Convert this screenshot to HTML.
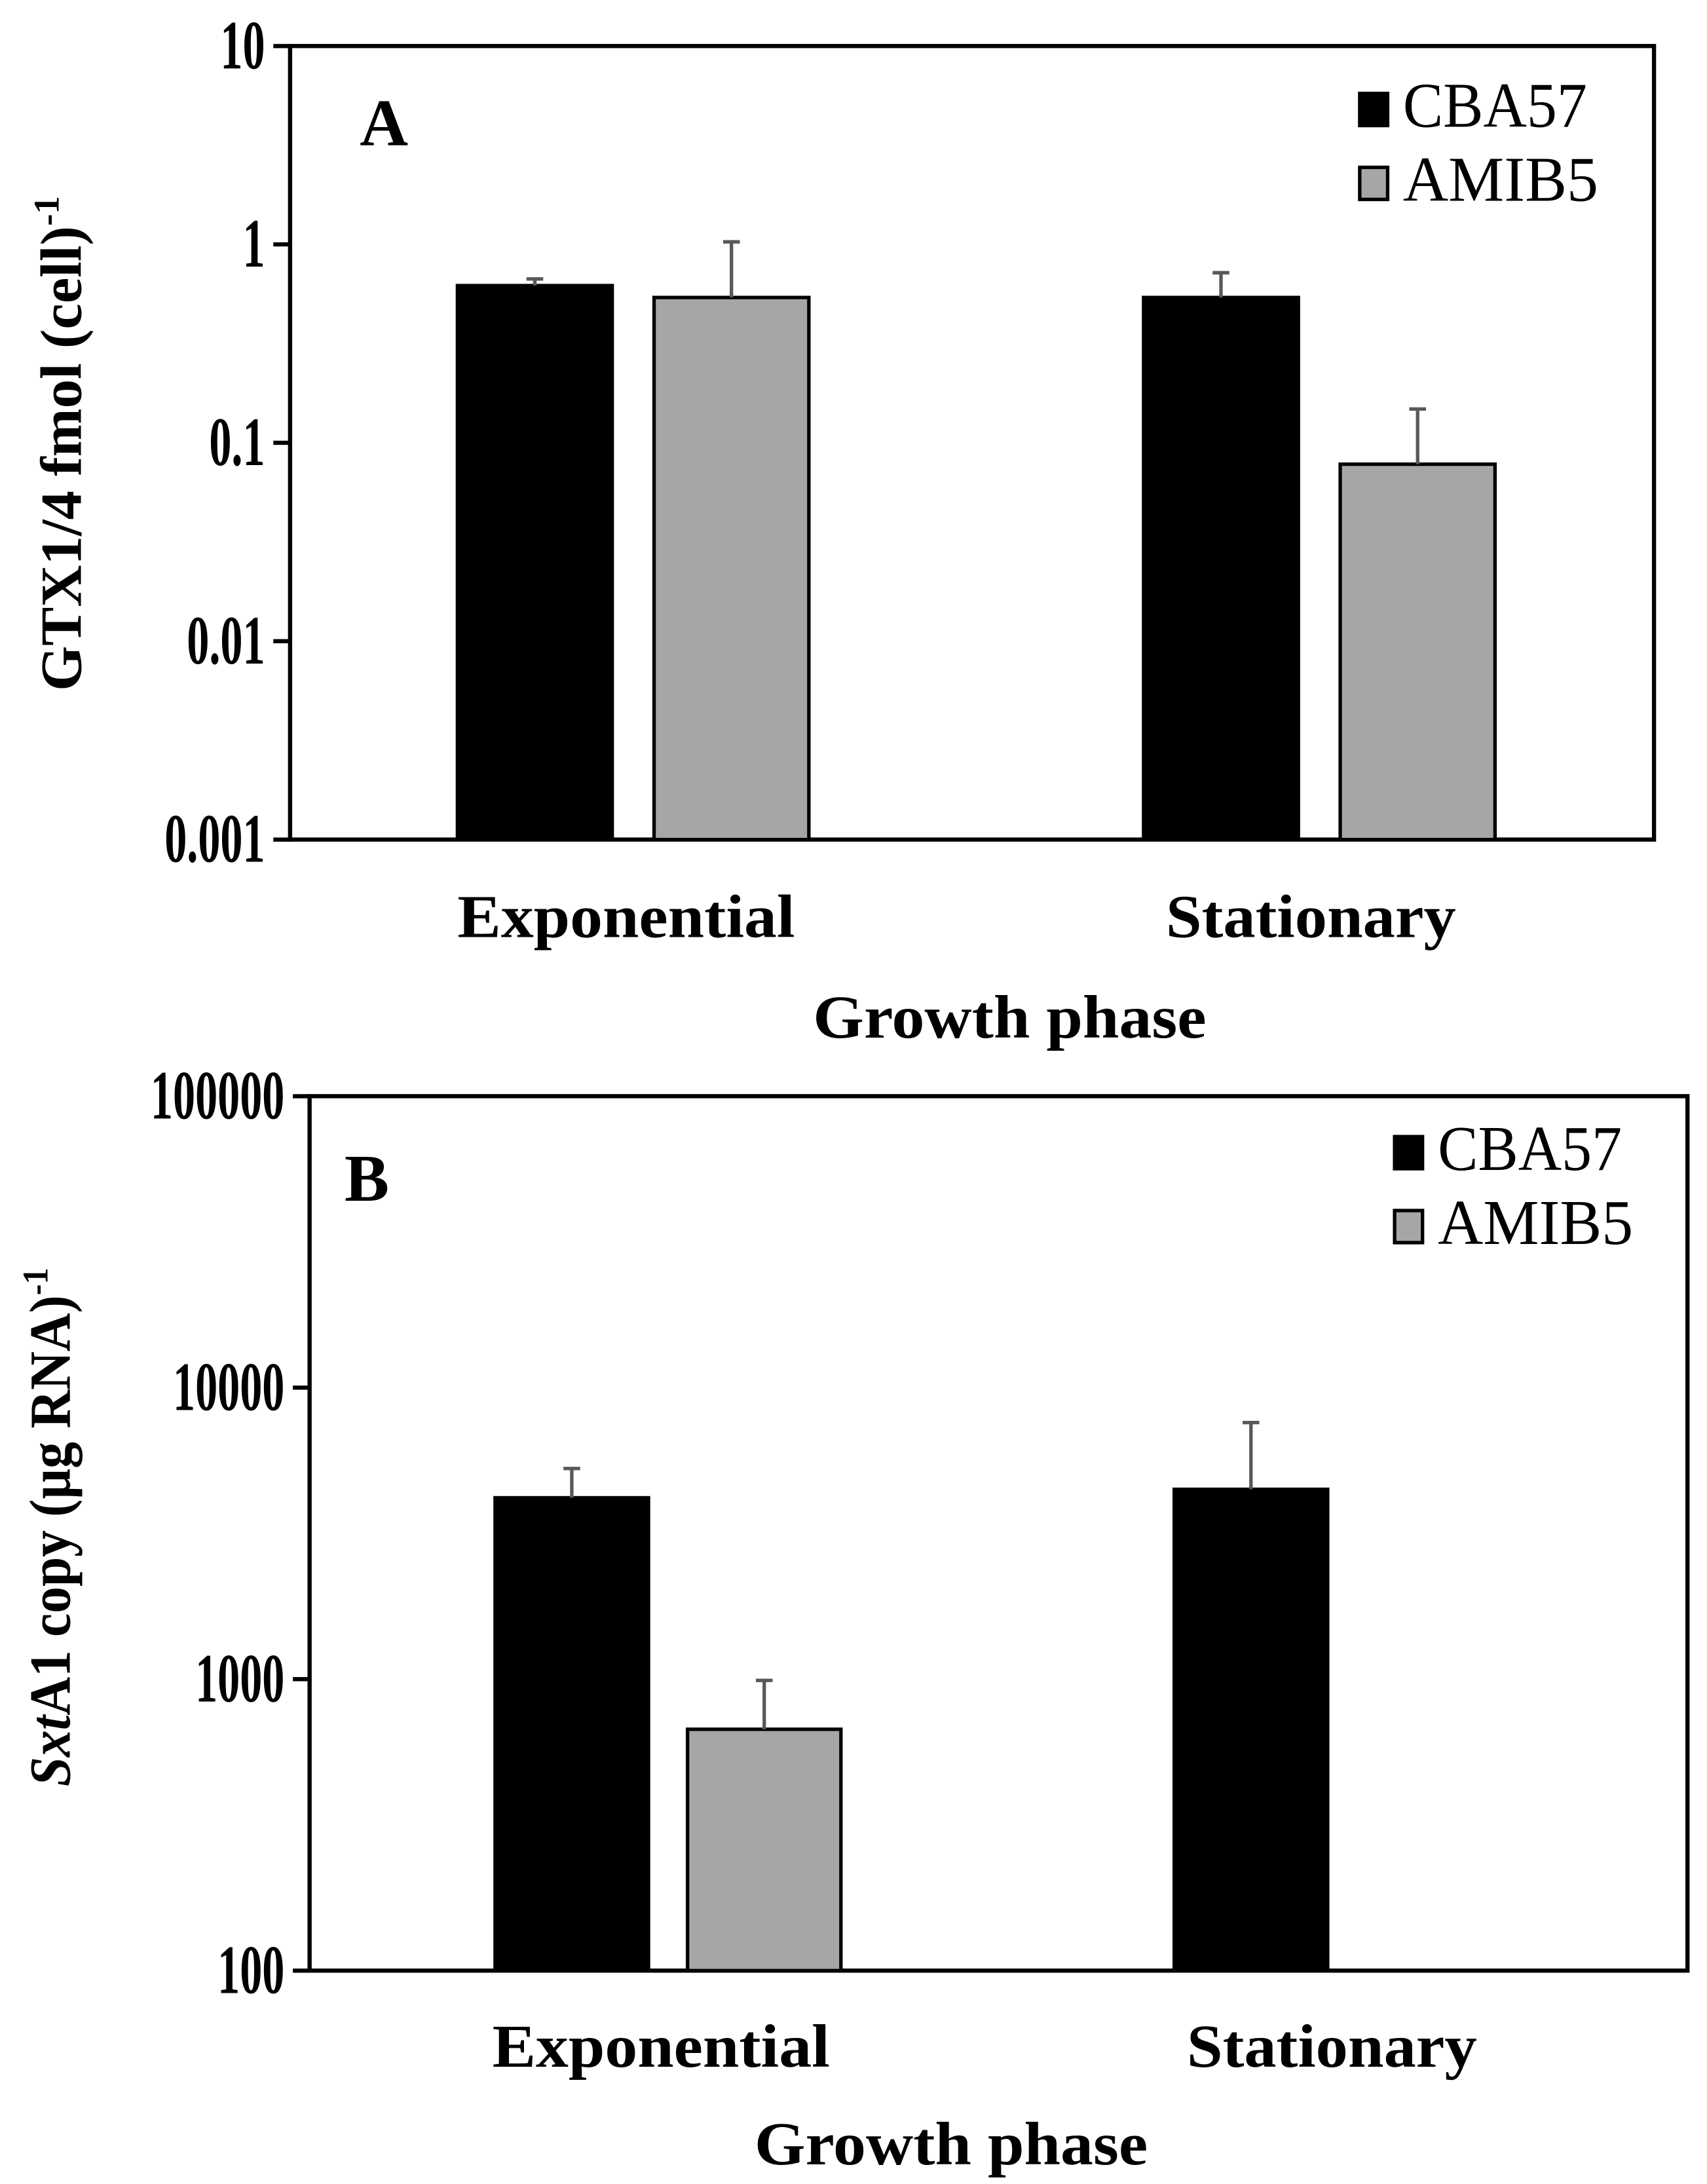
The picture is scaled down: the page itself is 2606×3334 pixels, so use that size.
<!DOCTYPE html>
<html><head><meta charset="utf-8"><style>
html,body{margin:0;padding:0;background:#fff}
svg{display:block}
text{font-family:"Liberation Serif",serif}
</style></head><body>
<svg id="fig" width="2606" height="3334" viewBox="0 0 1224 1566" preserveAspectRatio="none" xmlns="http://www.w3.org/2000/svg"></svg>
<script>
const categories = ["Exponential", "Stationary"];
const seriesNames = ["CBA57", "AMIB5"];
const aCBA57 = [0.62, 0.54];
const aAMIB5 = [0.54, 0.078];
const aCBA57Err = [0.67, 0.72];
const aAMIB5Err = [1.03, 0.148];
const aTicks = [10, 1, 0.1, 0.01, 0.001];
const aTickLabels = ["10", "1", "0.1", "0.01", "0.001"];
const bCBA57 = [4190, 4480];
const bAMIB5 = [673, null];
const bCBA57Err = [5280, 7590];
const bAMIB5Err = [990, null];
const bTicks = [100000, 10000, 1000, 100];
const bTickLabels = ["100000", "10000", "1000", "100"];

const NS = "http://www.w3.org/2000/svg";
const svg = document.getElementById("fig");
function el(tag, attrs, parent, txt) {
  const e = document.createElementNS(NS, tag);
  for (const k in attrs) e.setAttribute(k, attrs[k]);
  if (txt !== undefined) e.textContent = txt;
  (parent || svg).appendChild(e);
  return e;
}

function panel(p) {
  const g = el("g", {});
  
  
  const lmin = Math.log10(p.min), lmax = Math.log10(p.max);
  const y = v => p.bottom - (Math.log10(v) - lmin) / (lmax - lmin) * (p.bottom - p.top);
  const fr = el("rect", {x: p.left, y: p.top, width: p.right - p.left, height: p.bottom - p.top, fill: "none", stroke: "#000", "stroke-width": 3}, g);
  
  
  p.ticks.forEach((t, i) => {
    const tk = el("line", {x1: p.left - 12, x2: p.left, y1: y(t), y2: y(t), stroke: "#000", "stroke-width": 3}, g);
    
    
    const lb = el("text", {x: p.left - 18, y: y(t) + 16, "text-anchor": "end", "font-size": 50, "font-weight": "bold", textLength: p.tickLabels[i].length * 16 - (p.tickLabels[i].includes(".") ? 8 : 0), lengthAdjust: "spacingAndGlyphs"}, g, p.tickLabels[i]);
    
    
  });
  categories.forEach((c, ci) => {
    [[p.s1, p.e1, "#000"], [p.s2, p.e2, "#a6a6a6"]].forEach((s, si) => {
      const v = s[0][ci];
      if (v == null) return;
      const x = p.barX[ci] + si * p.barGap;
      const b = el("rect", {x: x, y: y(v), width: p.barW, height: p.bottom - y(v), fill: s[2], stroke: "#000", "stroke-width": 2.5}, g);
      
      
      const e = s[1][ci];
      const cx = x + p.barW / 2;
      const eb = el("path", {d: `M${cx},${y(v)}V${y(e)}M${cx - 6},${y(e)}H${cx + 6}`, stroke: "#595959", "stroke-width": 2.5, fill: "none"}, g);
      
      
    });
    const cl = el("text", {x: p.catX[ci], y: p.catY, "text-anchor": "middle", "font-size": 44, "font-weight": "bold", textLength: c.length === 11 ? 242 : 208, lengthAdjust: "spacingAndGlyphs"}, g, c);
    
    
  });
  const xt = el("text", {x: p.xtX, y: p.xtY, "text-anchor": "middle", "font-size": 44, "font-weight": "bold", textLength: 282, lengthAdjust: "spacingAndGlyphs"}, g, "Growth phase");
  
  
  const pl = el("text", {x: p.letterX, y: p.letterY, "font-size": 48, "font-weight": "bold"}, g, p.letter);
  
  
  seriesNames.forEach((n, i) => {
    const ly = p.legY + i * 53;
    const sq = el("rect", {x: p.legX, y: ly, width: 20, height: 23, fill: i ? "#a6a6a6" : "#000", stroke: "#000", "stroke-width": 2.5}, g);
    
    
    const lt = el("text", {x: p.legX + 31, y: ly + 24, "font-size": 46, textLength: i ? 140 : 132, lengthAdjust: "spacingAndGlyphs"}, g, n);
    
    
  });
  const yt = el("text", {transform: `translate(${p.ytX},${p.ytY}) rotate(-90)`, "text-anchor": "middle", "font-size": 42, "font-weight": "bold", textLength: p.ytLen, lengthAdjust: "spacingAndGlyphs"}, g);
  
  
  p.ytParts.forEach(part => {
    el("tspan", part[1], yt, part[0]);
  });
}

panel({name: "panel-a", left: 208, right: 1186, top: 33, bottom: 602, min: 0.001, max: 10,
  ticks: aTicks, tickLabels: aTickLabels, s1: aCBA57, s2: aAMIB5, e1: aCBA57Err, e2: aAMIB5Err,
  barX: [328, 820], barW: 111, barGap: 141, catX: [449, 940], catY: 672, xtX: 724, xtY: 744,
  letter: "A", letterX: 258, letterY: 104, legX: 975, legY: 67, ytX: 58, ytY: 318, ytLen: 355,
  ytParts: [["GTX1/4 fmol (cell)", {}], ["-1", {"font-size": 26, dy: -16}]]});
panel({name: "panel-b", left: 222, right: 1210, top: 786, bottom: 1413, min: 100, max: 100000,
  ticks: bTicks, tickLabels: bTickLabels, s1: bCBA57, s2: bAMIB5, e1: bCBA57Err, e2: bAMIB5Err,
  barX: [355, 842], barW: 110, barGap: 138, catX: [474, 955], catY: 1482, xtX: 682, xtY: 1552,
  letter: "B", letterX: 247, letterY: 861, legX: 1000, legY: 815, ytX: 50, ytY: 1095, ytLen: 372,
  ytParts: [["Sxt", {"font-style": "italic"}], ["A1 copy (µg RNA)", {}], ["-1", {"font-size": 26, dy: -16}]]});
</script>
</body></html>
